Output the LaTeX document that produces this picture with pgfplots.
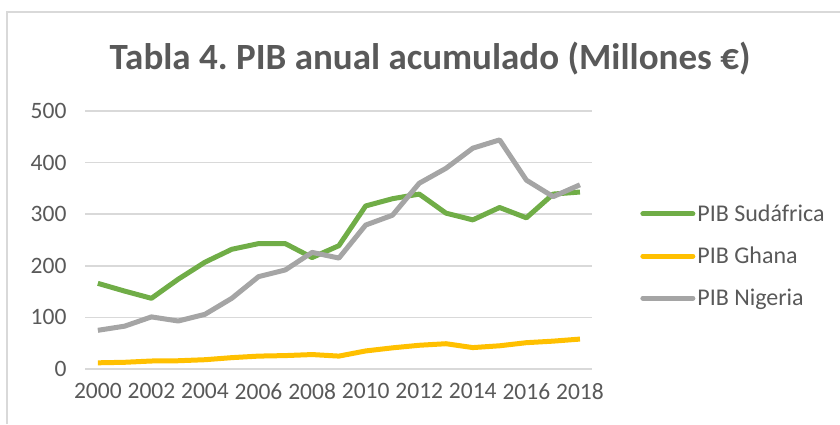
\documentclass[border=0pt]{standalone}
\usepackage{pgfplots}
\pgfplotsset{compat=1.18}
\usepackage{fontspec}
\setmainfont{Carlito}
\frenchspacing
\definecolor{sagreen}{HTML}{70AD47}
\definecolor{ghyellow}{HTML}{FFC000}
\definecolor{nggray}{HTML}{A5A5A5}
\definecolor{txtgray}{HTML}{595959}
\definecolor{gridgray}{HTML}{D9D9D9}

\begin{document}
\begin{tikzpicture}
  \path[use as bounding box] (0pt,0pt) rectangle (840pt,424pt);
  \draw[gridgray, line width=1.5pt] (7pt,0pt) -- (7pt,412pt) -- (840pt,412pt);
  \node[anchor=base, text=txtgray, font=\fontsize{37}{42}\selectfont\bfseries]
    at (430pt,354pt) {Tabla 4. PIB anual acumulado (Millones €)};
  \begin{axis}[
    at={(85pt,55pt)}, anchor=south west,
    scale only axis,
    width=507pt, height=258pt,
    xmin=1999.52, xmax=2018.45,
    ymin=0, ymax=500,
    xtick={2000,2002,...,2018},
    ytick={0,100,...,500},
    xticklabel style={/pgf/number format/1000 sep={}},
    /pgf/number format/assume math mode=true,
    axis line style={draw=none},
    major tick length=0pt,
    ymajorgrids=true,
    grid style={gridgray, line width=1.5pt},
    tick label style={text=txtgray, font=\fontsize{23.5}{28}\selectfont},
    yticklabel style={xshift=-15pt},
    xticklabel style={yshift=-11pt},
    legend style={at={(1.095,0.438)}, anchor=west, draw=none, fill=none,
      font=\fontsize{24}{28}\selectfont, text=txtgray,
      row sep=20pt, inner xsep=0pt},
    legend cell align=left,
    legend image code/.code={\draw[#1, line cap=round] (0pt,0pt) -- (50pt,0pt);},
    every axis plot/.append style={line width=5pt, line join=round},
  ]
  \addplot[sagreen] coordinates {
    (2000,166)(2001,151)(2002,137)(2003,174)(2004,207)(2005,232)(2006,243)
    (2007,243)(2008,216)(2009,239)(2010,316)(2011,330)(2012,339)(2013,302)
    (2014,289)(2015,313)(2016,293)(2017,339)(2018,343)};
  \addlegendentry{PIB Sudáfrica}
  \addplot[ghyellow] coordinates {
    (2000,12)(2001,13)(2002,15.5)(2003,16)(2004,18)(2005,22)(2006,25)
    (2007,26)(2008,28)(2009,25)(2010,35)(2011,41)(2012,46)(2013,49)
    (2014,41.5)(2015,45)(2016,51)(2017,54)(2018,58)};
  \addlegendentry{PIB Ghana}
  \addplot[nggray] coordinates {
    (2000,75)(2001,83)(2002,101)(2003,93)(2004,106)(2005,137)(2006,179)
    (2007,192)(2008,226)(2009,215)(2010,279)(2011,298)(2012,360)(2013,389)
    (2014,428)(2015,444)(2016,366)(2017,334)(2018,357)};
  \addlegendentry{PIB Nigeria}
  \end{axis}
\end{tikzpicture}
\end{document}
